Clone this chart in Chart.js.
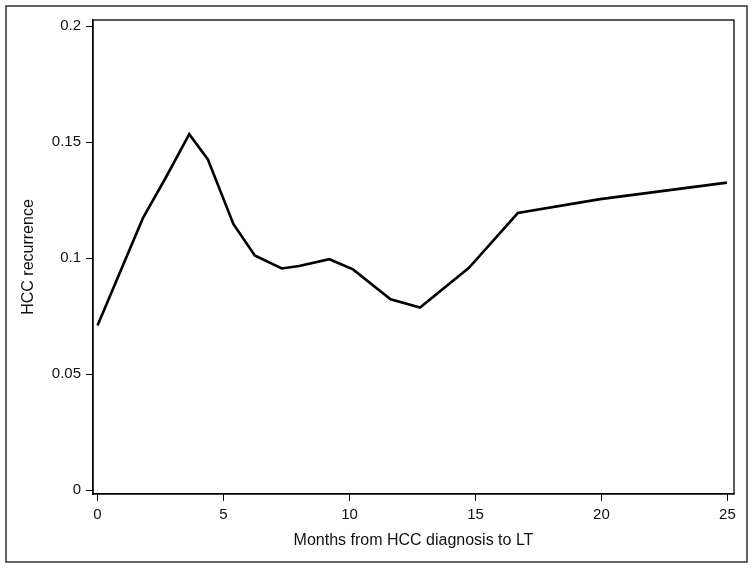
<!DOCTYPE html>
<html>
<head>
<meta charset="utf-8">
<script src="https://cdn.jsdelivr.net/npm/chart.js@4/dist/chart.umd.min.js"></script>
<style>
  html, body { margin: 0; padding: 0; background: #fff; }
  #wrap { width: 754px; height: 569px; position: relative; }
</style>
</head>
<body>
<div id="wrap"><canvas id="myChart" width="754" height="569"></canvas></div>
<script>
// months from HCC diagnosis to LT, and the recurrence curve
const months = [0, 1.8, 2.7, 3.64, 4.38, 5.39, 6.24, 7.31, 8.0, 9.2, 10.14, 11.63, 12.8, 14.74, 16.68, 19.95, 24.98];
const recurrence = [0.0709, 0.1172, 0.1345, 0.1534, 0.1425, 0.1147, 0.1011, 0.0955, 0.0966, 0.0995, 0.0951, 0.0822, 0.0787, 0.0958, 0.1194, 0.1254, 0.1325];
const xTicks = [0, 5, 10, 15, 20, 25];
const yTicks = [0, 0.05, 0.1, 0.15, 0.2];

const points = months.map((m, i) => ({x: m, y: recurrence[i]}));

// frame around the whole picture and a box around the plot
const frames = {
    id: 'frames',
    afterDraw(chart) {
        const ctx = chart.ctx;
        const a = chart.chartArea;
        ctx.save();
        ctx.strokeStyle = '#333';
        ctx.lineWidth = 1.5;
        ctx.strokeRect(6, 6, 741, 556);
        ctx.strokeStyle = '#000';
        ctx.lineWidth = 1.3;
        ctx.strokeRect(a.left, a.top, a.right - a.left, a.bottom - a.top);
        ctx.restore();
    }
};

var ctx = document.getElementById('myChart').getContext('2d');
const chart = new Chart(ctx, {
    type: 'line',
    data: {
        datasets: [{
            data: points,
            borderColor: '#000',
            borderWidth: 2.6,
            pointRadius: 0,
            tension: 0,
            fill: false
        }]
    },
    options: {
        responsive: false,
        animation: false,
        layout: { padding: { left: 0, top: 20, right: 20, bottom: 0 } },
        plugins: { legend: { display: false }, tooltip: { enabled: false } },
        scales: {
            x: {
                type: 'linear',
                min: -0.18,
                max: 25.26,
                afterBuildTicks: s => { s.ticks = xTicks.map(v => ({value: v})); },
                afterFit: s => { s.height = 75; },
                ticks: {
                    includeBounds: false,
                    color: '#111',
                    padding: 5,
                    maxRotation: 0,
                    font: { family: 'Liberation Sans', size: 15 }
                },
                grid: { drawOnChartArea: false, tickLength: 7, color: '#000', lineWidth: 1 },
                border: { color: '#000', width: 1.3 },
                title: {
                    display: true,
                    text: 'Months from HCC diagnosis to LT',
                    color: '#111',
                    font: { family: 'Liberation Sans', size: 16 },
                    padding: { top: 19, bottom: 19 }
                }
            },
            y: {
                type: 'linear',
                min: -0.0017,
                max: 0.2026,
                afterBuildTicks: s => { s.ticks = yTicks.map(v => ({value: v})); },
                afterFit: s => { s.width = 93; },
                ticks: {
                    includeBounds: false,
                    color: '#111',
                    padding: 5,
                    font: { family: 'Liberation Sans', size: 15 },
                    callback: v => String(Number(v.toFixed(2)))
                },
                grid: { drawOnChartArea: false, tickLength: 7, color: '#000', lineWidth: 1 },
                border: { color: '#000', width: 1.3 },
                title: {
                    display: true,
                    text: 'HCC recurrence',
                    color: '#111',
                    font: { family: 'Liberation Sans', size: 16 },
                    padding: { top: 19, bottom: 19 }
                }
            }
        }
    },
    plugins: [frames]
});
</script>
</body>
</html>
